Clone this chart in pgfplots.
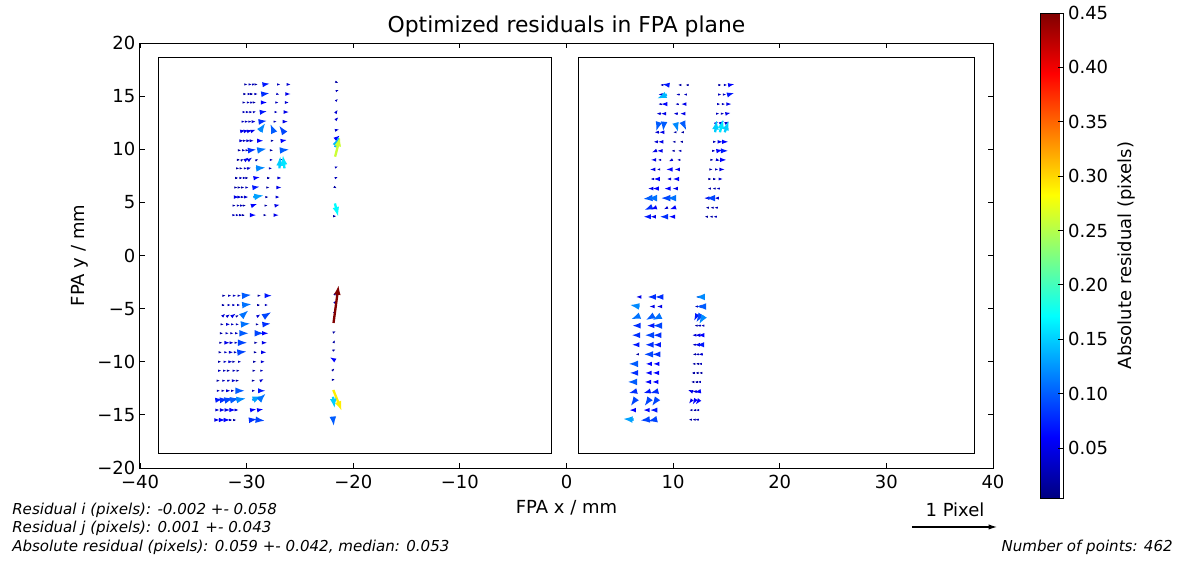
\documentclass[border=0pt]{standalone}
\usepackage{pgfplots}
\pgfplotsset{compat=1.18}
\usepackage{pgfplotstable}
\usepackage{fontspec}
\setmainfont{DejaVu Sans}
\usetikzlibrary{arrows.meta}

% residuals: x y position (mm), u v residual (pixels), c = absolute residual (pixels)
\pgfplotstableread{
x y u v c
-30.05 16.1 0.02 0.00 0.02
-29.73 16.1 0.03 0.00 0.03
-29.41 16.1 0.03 0.01 0.03
-29.09 16.1 0.02 0.00 0.02
-28.35 16.1 0.07 0.01 0.07
-27.05 16.1 0.03 0.00 0.03
-26.15 16.1 0.04 0.00 0.04
-30.14 15.2 0.02 0.00 0.02
-29.82 15.2 0.03 0.00 0.03
-29.50 15.2 0.02 0.00 0.02
-29.18 15.2 0.03 0.00 0.03
-28.44 15.2 0.08 0.01 0.08
-27.14 15.2 0.03 -0.01 0.03
-26.24 15.2 0.05 0.00 0.05
-30.22 14.4 0.02 0.00 0.02
-29.90 14.4 0.03 0.00 0.03
-29.58 14.4 0.03 0.01 0.03
-29.26 14.4 0.02 0.00 0.02
-28.52 14.4 0.06 0.00 0.06
-27.22 14.4 0.03 0.00 0.03
-26.32 14.4 0.04 0.00 0.04
-30.30 13.5 0.03 0.00 0.03
-29.98 13.5 0.03 0.00 0.03
-29.66 13.5 0.03 0.00 0.03
-29.34 13.5 0.03 0.01 0.03
-28.60 13.5 0.07 0.01 0.07
-27.30 13.5 0.03 0.00 0.03
-26.40 13.5 0.05 0.00 0.05
-30.39 12.6 0.03 0.00 0.03
-30.07 12.6 0.03 0.00 0.03
-29.75 12.6 0.03 0.00 0.03
-29.43 12.6 0.04 0.00 0.04
-28.69 12.6 0.08 0.01 0.08
-27.39 12.6 0.03 0.00 0.03
-26.49 12.6 0.05 0.00 0.05
-30.48 11.7 0.05 0.01 0.05
-30.16 11.7 0.05 0.01 0.05
-29.84 11.7 0.05 0.01 0.05
-29.52 11.7 0.05 0.02 0.05
-28.78 11.7 0.07 0.10 0.12
-27.48 11.7 -0.04 0.09 0.10
-26.58 11.7 -0.05 0.07 0.09
-30.57 10.8 0.04 0.00 0.04
-30.25 10.8 0.03 0.00 0.03
-29.93 10.8 0.04 0.00 0.04
-29.61 10.8 0.04 0.00 0.04
-28.87 10.8 0.06 0.00 0.06
-27.57 10.8 0.02 0.00 0.02
-26.67 10.8 0.06 0.01 0.06
-30.65 9.9 0.02 0.00 0.02
-30.33 9.9 0.03 0.00 0.03
-30.01 9.9 0.03 0.00 0.03
-29.69 9.9 0.08 0.01 0.08
-28.95 9.9 0.11 0.02 0.11
-27.65 9.9 0.02 0.00 0.02
-26.75 9.9 0.10 0.01 0.10
-30.74 9.0 0.02 0.00 0.02
-30.42 9.0 0.02 0.01 0.02
-30.10 9.0 0.04 0.03 0.05
-29.78 9.0 0.04 0.03 0.05
-29.04 9.0 0.02 0.01 0.02
-27.74 9.0 0.03 0.00 0.03
-26.84 9.0 0.03 0.01 0.03
-30.82 8.2 0.02 0.00 0.02
-30.50 8.2 0.02 0.00 0.02
-30.18 8.2 0.03 0.00 0.03
-29.86 8.2 0.04 0.01 0.04
-29.12 8.2 0.12 0.01 0.12
-27.82 8.2 0.03 0.00 0.03
-26.92 8.2 0.01 0.15 0.15
-26.45 8.2 -0.02 0.16 0.16
-30.91 7.3 0.02 0.00 0.02
-30.59 7.3 0.03 0.00 0.03
-30.27 7.3 0.03 0.00 0.03
-29.95 7.3 0.02 0.00 0.02
-29.21 7.3 0.06 0.01 0.06
-27.91 7.3 0.02 0.00 0.02
-27.01 7.3 0.04 0.00 0.04
-30.99 6.4 0.02 0.00 0.02
-30.67 6.4 0.02 0.00 0.02
-30.35 6.4 0.02 0.00 0.02
-30.03 6.4 0.03 0.00 0.03
-29.29 6.4 0.07 0.01 0.07
-27.99 6.4 0.02 0.00 0.02
-27.09 6.4 0.05 0.00 0.05
-31.08 5.5 0.05 0.00 0.05
-30.76 5.5 0.04 0.00 0.04
-30.44 5.5 0.03 0.00 0.03
-30.12 5.5 0.04 0.00 0.04
-29.38 5.5 0.13 0.02 0.13
-28.08 5.5 0.02 0.00 0.02
-27.18 5.5 0.04 0.00 0.04
-31.16 4.7 0.02 0.00 0.02
-30.84 4.7 0.03 0.00 0.03
-30.52 4.7 0.03 0.00 0.03
-30.20 4.7 0.02 0.00 0.02
-29.46 4.7 0.06 0.02 0.06
-28.16 4.7 0.02 0.00 0.02
-27.26 4.7 0.05 0.01 0.05
-31.25 3.8 0.03 0.00 0.03
-30.93 3.8 0.03 0.00 0.03
-30.61 3.8 0.03 0.00 0.03
-30.29 3.8 0.02 0.00 0.02
-29.55 3.8 0.06 0.00 0.06
-28.25 3.8 0.02 0.00 0.02
-27.35 3.8 0.05 0.00 0.05
-21.55 16.3 0.02 -0.01 0.02
-21.57 15.5 0.03 0.01 0.03
-21.58 14.6 0.02 0.02 0.03
-21.60 13.5 0.02 0.03 0.04
-21.61 12.8 0.03 0.03 0.04
-21.62 11.8 0.04 0.01 0.04
-21.63 11.0 0.05 0.04 0.06
-21.70 10.2 0.05 0.13 0.14
-21.70 9.3 0.06 0.24 0.26
-21.65 8.3 0.03 0.01 0.03
-21.66 7.3 0.03 0.01 0.03
-21.68 6.4 0.02 -0.01 0.02
-21.72 4.9 0.04 -0.16 0.17
-21.72 3.7 0.02 0.00 0.02
-32.10 -3.78 0.02 0.00 0.02
-31.65 -3.78 0.03 0.00 0.03
-31.20 -3.78 0.03 0.00 0.03
-30.75 -3.78 0.03 0.00 0.03
-30.30 -3.78 0.10 0.01 0.10
-28.80 -3.78 0.02 0.00 0.02
-28.15 -3.78 0.07 0.00 0.07
-32.16 -4.66 0.02 0.00 0.02
-31.71 -4.66 0.03 0.00 0.03
-31.26 -4.66 0.03 0.00 0.03
-30.81 -4.66 0.03 0.00 0.03
-30.36 -4.66 0.11 0.01 0.11
-28.86 -4.66 0.02 0.00 0.02
-28.21 -4.66 0.03 0.00 0.03
-32.23 -5.69 0.03 0.03 0.04
-31.78 -5.69 0.03 0.02 0.04
-31.33 -5.69 0.04 0.03 0.05
-30.88 -5.69 0.02 0.01 0.02
-30.43 -5.69 0.08 0.07 0.11
-28.93 -5.69 0.03 0.02 0.04
-28.28 -5.69 0.08 0.05 0.09
-32.28 -6.48 0.02 0.00 0.02
-31.83 -6.48 0.04 0.00 0.04
-31.38 -6.48 0.03 0.00 0.03
-30.93 -6.48 0.03 0.00 0.03
-30.48 -6.48 0.11 0.01 0.11
-28.98 -6.48 0.02 0.00 0.02
-28.33 -6.48 0.08 0.01 0.08
-32.34 -7.32 0.02 0.00 0.02
-31.89 -7.32 0.03 0.00 0.03
-31.44 -7.32 0.03 0.00 0.03
-30.99 -7.32 0.03 0.00 0.03
-30.54 -7.32 0.10 0.00 0.10
-29.04 -7.32 0.09 0.00 0.09
-28.39 -7.32 0.06 0.00 0.06
-32.40 -8.21 0.02 0.00 0.02
-31.95 -8.21 0.05 0.00 0.05
-31.50 -8.21 0.04 0.00 0.04
-31.05 -8.21 0.03 0.00 0.03
-30.60 -8.21 0.09 0.00 0.09
-29.10 -8.21 0.02 0.00 0.02
-28.45 -8.21 0.05 0.00 0.05
-32.46 -9.11 0.02 0.00 0.02
-32.01 -9.11 0.03 0.00 0.03
-31.56 -9.11 0.04 0.00 0.04
-31.11 -9.11 0.03 0.00 0.03
-30.66 -9.11 0.09 0.01 0.09
-29.16 -9.11 0.02 0.00 0.02
-28.51 -9.11 0.05 0.00 0.05
-32.52 -10.0 0.02 0.00 0.02
-32.07 -10.0 0.03 0.00 0.03
-31.62 -10.0 0.04 0.00 0.04
-31.17 -10.0 0.02 0.00 0.02
-30.72 -10.0 0.03 0.00 0.03
-29.22 -10.0 0.02 0.00 0.02
-28.57 -10.0 0.04 0.00 0.04
-32.58 -10.84 0.03 0.00 0.03
-32.13 -10.84 0.03 0.00 0.03
-31.68 -10.84 0.02 0.00 0.02
-31.23 -10.84 0.03 0.00 0.03
-30.78 -10.84 0.02 0.00 0.02
-29.28 -10.84 0.02 0.00 0.02
-28.63 -10.84 0.03 0.00 0.03
-32.64 -11.78 0.02 0.00 0.02
-32.19 -11.78 0.03 0.00 0.03
-31.74 -11.78 0.03 0.01 0.03
-31.29 -11.78 0.04 0.00 0.04
-30.84 -11.78 0.02 0.00 0.02
-29.34 -11.78 0.02 0.00 0.02
-28.69 -11.78 0.04 0.02 0.04
-32.71 -12.73 0.03 0.00 0.03
-32.26 -12.73 0.03 0.00 0.03
-31.81 -12.73 0.04 0.00 0.04
-31.36 -12.73 0.03 0.00 0.03
-30.91 -12.73 0.10 0.00 0.10
-29.41 -12.73 0.03 0.00 0.03
-28.76 -12.73 0.07 0.00 0.07
-32.77 -13.6 0.07 0.01 0.07
-32.32 -13.6 0.08 0.01 0.08
-31.87 -13.6 0.09 0.02 0.09
-31.42 -13.6 0.10 0.02 0.10
-30.97 -13.6 0.12 0.02 0.12
-29.47 -13.6 0.12 0.05 0.13
-28.82 -13.6 0.08 0.08 0.11
-32.83 -14.54 0.04 0.00 0.04
-32.38 -14.54 0.05 0.00 0.05
-31.93 -14.54 0.05 0.00 0.05
-31.48 -14.54 0.06 0.00 0.06
-31.03 -14.54 0.04 0.00 0.04
-29.53 -14.54 0.06 0.01 0.06
-28.88 -14.54 0.06 0.01 0.06
-32.90 -15.48 0.05 0.00 0.05
-32.45 -15.48 0.06 0.00 0.06
-32.00 -15.48 0.06 0.00 0.06
-31.55 -15.48 0.03 0.00 0.03
-31.10 -15.48 0.02 0.00 0.02
-29.60 -15.48 0.08 0.01 0.08
-28.95 -15.48 0.09 -0.01 0.09
-21.70 -3.6 0.01 0.02 0.02
-21.72 -4.4 0.02 0.02 0.03
-21.74 -5.3 0.01 0.02 0.02
-21.85 -6.35 0.06 0.45 0.45
-21.78 -7.2 0.02 0.01 0.02
-21.79 -8.1 0.01 0.02 0.02
-21.80 -8.9 0.02 0.01 0.02
-21.82 -9.8 -0.05 0.03 0.06
-21.83 -10.7 0.01 0.01 0.02
-21.85 -11.7 0.02 0.00 0.02
-21.87 -12.66 0.10 -0.25 0.29
-21.90 -13.3 0.02 -0.14 0.15
-21.90 -15.3 0.01 -0.10 0.10
9.00 16.05 -0.03 0.00 0.03
9.50 16.05 -0.07 0.01 0.07
10.60 16.05 -0.02 0.00 0.02
11.30 16.05 -0.02 0.00 0.02
8.91 15.15 -0.04 0.00 0.04
9.41 15.15 -0.12 -0.05 0.14
10.51 15.15 -0.03 0.00 0.03
11.21 15.15 -0.03 0.00 0.03
8.82 14.25 -0.03 0.00 0.03
9.32 14.25 -0.06 0.00 0.06
10.42 14.25 -0.03 0.00 0.03
11.12 14.25 -0.05 0.00 0.05
8.73 13.35 -0.04 0.00 0.04
9.23 13.35 -0.05 0.00 0.05
10.33 13.35 -0.04 0.00 0.04
11.03 13.35 -0.05 0.00 0.05
8.64 12.45 -0.03 -0.10 0.10
9.14 12.45 -0.01 -0.10 0.10
10.24 12.45 0.03 -0.11 0.12
10.94 12.45 0.04 -0.09 0.10
8.55 11.6 -0.04 0.00 0.04
9.05 11.6 -0.05 0.00 0.05
10.15 11.6 -0.02 0.00 0.02
10.85 11.6 -0.02 0.00 0.02
8.46 10.7 -0.04 0.00 0.04
8.96 10.7 -0.05 0.00 0.05
10.06 10.7 -0.02 0.00 0.02
10.76 10.7 -0.02 0.00 0.02
8.38 9.85 -0.05 -0.02 0.05
8.88 9.85 -0.05 0.00 0.05
9.98 9.85 -0.02 0.00 0.02
10.68 9.85 -0.03 0.00 0.03
8.29 9.0 -0.05 0.00 0.05
8.79 9.0 -0.03 0.00 0.03
9.89 9.0 -0.04 -0.02 0.04
10.59 9.0 -0.03 0.00 0.03
8.20 8.1 -0.05 0.00 0.05
8.70 8.1 -0.03 0.00 0.03
9.80 8.1 -0.06 0.00 0.06
10.50 8.1 -0.05 0.00 0.05
8.11 7.2 -0.03 0.00 0.03
8.61 7.2 -0.06 0.00 0.06
9.71 7.2 -0.04 0.00 0.04
10.41 7.2 -0.06 0.00 0.06
8.02 6.3 -0.05 0.00 0.05
8.52 6.3 -0.06 0.00 0.06
9.62 6.3 -0.06 0.00 0.06
10.32 6.3 -0.05 0.00 0.05
7.93 5.4 -0.10 -0.01 0.10
8.43 5.4 -0.11 0.00 0.11
9.53 5.4 -0.09 0.00 0.09
10.23 5.4 -0.11 0.00 0.11
7.84 4.5 -0.07 -0.03 0.08
8.34 4.5 -0.06 -0.02 0.06
9.44 4.5 -0.04 -0.02 0.04
10.14 4.5 -0.06 -0.02 0.06
7.75 3.65 -0.07 0.00 0.07
8.25 3.65 -0.05 0.00 0.05
9.35 3.65 -0.08 0.00 0.08
10.05 3.65 -0.06 0.00 0.06
14.40 16.05 0.02 0.00 0.02
14.85 16.05 0.03 0.00 0.03
15.30 16.05 0.06 0.01 0.06
14.31 15.15 0.03 0.00 0.03
14.76 15.15 0.03 0.00 0.03
15.21 15.15 0.07 0.02 0.07
14.21 14.25 0.03 0.00 0.03
14.66 14.25 0.03 0.00 0.03
15.11 14.25 0.05 0.00 0.05
14.12 13.35 0.03 0.00 0.03
14.57 13.35 0.03 0.00 0.03
15.02 13.35 0.05 0.01 0.05
14.02 12.45 0.03 0.02 0.04
14.47 12.45 0.04 0.03 0.05
14.92 12.45 0.04 0.02 0.04
13.94 11.6 0.02 0.15 0.15
14.39 11.6 0.04 0.16 0.16
14.84 11.6 0.05 0.14 0.15
13.84 10.7 0.03 0.00 0.03
14.29 10.7 0.05 0.00 0.05
14.74 10.7 0.06 0.00 0.06
13.75 9.85 0.03 0.00 0.03
14.20 9.85 0.06 0.01 0.06
14.65 9.85 0.07 0.00 0.07
13.66 9.0 0.02 0.00 0.02
14.11 9.0 0.04 -0.01 0.04
14.56 9.0 0.06 0.00 0.06
13.57 8.1 0.02 0.00 0.02
14.02 8.1 0.03 0.00 0.03
14.47 8.1 0.05 0.00 0.05
13.47 7.2 0.02 0.00 0.02
13.92 7.2 0.02 0.00 0.02
14.37 7.2 0.04 0.00 0.04
13.38 6.3 -0.02 0.00 0.02
13.83 6.3 -0.02 0.00 0.02
14.28 6.3 -0.03 0.00 0.03
13.28 5.4 -0.05 0.00 0.05
13.73 5.4 -0.09 0.00 0.09
14.18 5.4 -0.04 0.00 0.04
13.19 4.5 -0.02 0.00 0.02
13.64 4.5 -0.02 0.00 0.02
14.09 4.5 -0.03 0.00 0.03
13.10 3.65 -0.02 0.00 0.02
13.55 3.65 -0.02 0.00 0.02
14.00 3.65 -0.03 0.00 0.03
6.90 -3.9 -0.05 0.00 0.05
8.20 -3.9 -0.08 0.00 0.08
8.90 -3.9 -0.08 0.00 0.08
6.85 -4.8 -0.12 0.02 0.12
8.15 -4.8 -0.05 0.00 0.05
8.85 -4.8 -0.05 0.00 0.05
6.81 -5.7 -0.10 -0.04 0.11
8.11 -5.7 -0.09 -0.05 0.10
8.81 -5.7 -0.10 -0.05 0.11
6.76 -6.6 -0.08 0.00 0.08
8.06 -6.6 -0.07 0.00 0.07
8.76 -6.6 -0.09 0.00 0.09
6.71 -7.5 -0.08 0.00 0.08
8.01 -7.5 -0.09 0.00 0.09
8.71 -7.5 -0.08 0.00 0.08
6.67 -8.4 -0.07 0.00 0.07
7.97 -8.4 -0.08 0.00 0.08
8.67 -8.4 -0.07 0.00 0.07
6.62 -9.3 -0.02 0.00 0.02
7.92 -9.3 -0.09 0.00 0.09
8.62 -9.3 -0.08 0.00 0.08
6.57 -10.2 -0.10 0.00 0.10
7.87 -10.2 -0.06 0.00 0.06
8.57 -10.2 -0.06 0.00 0.06
6.53 -11.05 -0.08 0.00 0.08
7.83 -11.05 -0.06 0.00 0.06
8.53 -11.05 -0.06 0.00 0.06
6.48 -11.9 -0.10 0.00 0.10
7.78 -11.9 -0.06 0.00 0.06
8.48 -11.9 -0.06 0.00 0.06
6.44 -12.8 -0.08 -0.02 0.08
7.74 -12.8 -0.07 -0.02 0.07
8.44 -12.8 -0.08 -0.02 0.08
6.39 -13.65 -0.05 -0.07 0.09
7.69 -13.65 -0.05 -0.07 0.09
8.39 -13.65 -0.05 -0.07 0.09
6.35 -14.55 -0.06 0.00 0.06
7.65 -14.55 -0.06 0.00 0.06
8.35 -14.55 -0.07 0.00 0.07
6.30 -15.45 -0.13 0.01 0.13
7.60 -15.45 -0.09 -0.01 0.09
8.30 -15.45 -0.09 -0.02 0.09
12.30 -3.9 -0.02 0.00 0.02
12.65 -3.9 -0.03 0.00 0.03
13.00 -3.9 -0.12 0.00 0.12
12.25 -4.8 -0.03 0.00 0.03
12.60 -4.8 -0.05 0.00 0.05
12.95 -4.8 -0.10 0.00 0.10
12.19 -5.7 -0.03 -0.06 0.07
12.54 -5.7 -0.05 -0.08 0.09
12.89 -5.7 -0.06 -0.10 0.12
12.14 -6.6 -0.02 0.00 0.02
12.49 -6.6 -0.03 0.00 0.03
12.84 -6.6 -0.03 0.00 0.03
12.08 -7.5 -0.04 0.00 0.04
12.43 -7.5 -0.05 0.00 0.05
12.78 -7.5 -0.06 0.00 0.06
12.03 -8.4 -0.03 0.00 0.03
12.38 -8.4 -0.05 0.00 0.05
12.73 -8.4 -0.07 0.00 0.07
11.97 -9.3 -0.02 0.00 0.02
12.32 -9.3 -0.03 0.00 0.03
12.67 -9.3 -0.04 0.00 0.04
11.92 -10.2 -0.02 0.00 0.02
12.27 -10.2 -0.02 0.00 0.02
12.62 -10.2 -0.03 0.00 0.03
11.87 -11.05 -0.02 0.00 0.02
12.22 -11.05 -0.02 0.00 0.02
12.57 -11.05 -0.02 0.00 0.02
11.82 -11.9 -0.02 0.00 0.02
12.17 -11.9 -0.02 0.00 0.02
12.52 -11.9 -0.03 0.00 0.03
11.76 -12.8 -0.05 0.02 0.05
12.11 -12.8 -0.04 0.00 0.04
12.46 -12.8 -0.06 -0.01 0.06
11.71 -13.65 -0.03 -0.04 0.05
12.06 -13.65 -0.03 -0.05 0.06
12.41 -13.65 -0.04 -0.05 0.06
11.65 -14.55 -0.02 0.00 0.02
12.00 -14.55 -0.02 0.00 0.02
12.35 -14.55 -0.03 0.00 0.03
11.60 -15.45 -0.02 0.00 0.02
11.95 -15.45 -0.02 0.00 0.02
12.30 -15.45 -0.03 0.00 0.03
}\residuals

\begin{document}
\begin{tikzpicture}
\path[use as bounding box] (-105pt,-70.5pt) rectangle (784.5pt,351pt);
\begin{axis}[
    at={(0,0)}, anchor=south west,
    scale only axis,
    width=639.75pt, height=318.75pt,
    xmin=-40, xmax=40, ymin=-20, ymax=20,
    xtick={-40,-30,-20,-10,0,10,20,30,40},
    xticklabels={−40,−30,−20,−10,0,10,20,30,40},
    ytick={-20,-15,-10,-5,0,5,10,15,20},
    yticklabels={−20,−15,−10,−5,0,5,10,15,20},
    tick align=inside,
    major tick length=4pt,
    tick style={black, line width=0.6pt},
    axis line style={line width=0.75pt},
    clip=false,
    ticklabel style={font=\fontsize{13.5}{16}\selectfont},
    xticklabel style={yshift=-1.5pt},
    label style={font=\fontsize{13.5}{16}\selectfont},
    xlabel style={yshift=-2pt},
    title style={font=\fontsize{16.4}{19}\selectfont, yshift=-5pt},
    title={Optimized residuals in FPA plane},
    xlabel={FPA x / mm},
    ylabel={FPA y / mm},
    colormap/jet,
    point meta min=0.004, point meta max=0.45,
    colorbar,
    colorbar style={
        at={(parent axis.east)}, anchor=west, xshift=27pt,
        scale only axis,
        width=17.25pt, height=363.75pt,
        ytick={0.05,0.10,0.15,0.20,0.25,0.30,0.35,0.40,0.45},
        yticklabels={0.05,0.10,0.15,0.20,0.25,0.30,0.35,0.40,0.45},
        yticklabel pos=right,
        ytick pos=right,
        ytick align=inside,
        major tick length=4pt,
        ylabel near ticks,
        ylabel={Absolute residual (pixels)},
        ticklabel style={font=\fontsize{13.5}{16}\selectfont},
        label style={font=\fontsize{13.5}{16}\selectfont},
        axis line style={line width=0.75pt},
    },
]
% CCD outlines
\addplot[black, line width=0.75pt, line cap=rect] coordinates {
    (-38.31,-18.59) (-1.36,-18.59) (-1.36,18.59) (-38.31,18.59) (-38.31,-18.59)
};
\addplot[black, line width=0.75pt, line cap=rect] coordinates {
    (1.17,-18.59) (38.31,-18.59) (38.31,18.59) (1.17,18.59) (1.17,-18.59)
};
% residual vectors, 1 pixel = 8 mm
\addplot[
    point meta=\thisrow{c},
    quiver={
        u=\thisrow{u}, v=\thisrow{v},
        scale arrows=8,
        colored=mapped color,
        every arrow/.append style={
            line width={min(1.75,max(0.6,0.1+0.0085*\pgfplotspointmetatransformed))*1pt}
        },
    },
    -{Latex[length=0pt 4.3, width=0pt 2.9]},
] table {\residuals};
% quiver key
\addplot[
    black, line width=1pt,
    -{Latex[length=6.5pt, width=4pt]},
    quiver={u=\thisrow{u}, v=\thisrow{v}, scale arrows=8},
] table[row sep=\\] {x y u v\\ 32.4 -25.55 1 0\\};
\end{axis}
\node[font=\fontsize{13.5}{16}\selectfont] at (611.25pt,-31.5pt) {1 Pixel};
\begin{scope}[font=\fontsize{11.3}{13}\selectfont\itshape]
\node[anchor=west, inner sep=0pt] at (-96pt,-31.5pt) {Residual i (pixels): -0.002 +- 0.058};
\node[anchor=west, inner sep=0pt] at (-96pt,-45pt) {Residual j (pixels): 0.001 +- 0.043};
\node[anchor=west, inner sep=0pt] at (-96pt,-59.25pt) {Absolute residual (pixels): 0.059 +- 0.042, median: 0.053};
\node[anchor=east, inner sep=0pt] at (774.75pt,-59.25pt) {Number of points: 462};
\end{scope}
\end{tikzpicture}
\end{document}
